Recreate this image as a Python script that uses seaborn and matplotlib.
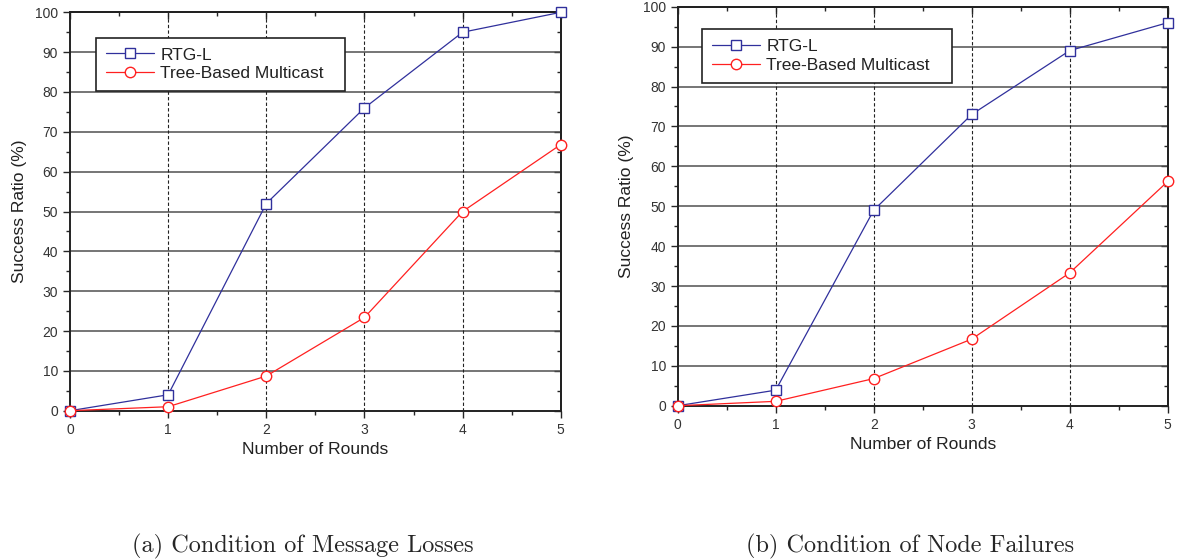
import matplotlib
matplotlib.use("Agg")
import matplotlib.pyplot as plt
import matplotlib.ticker as mtick
import seaborn as sns

# Dados
rodadas = [0, 1, 2, 3, 4, 5]
rtg_perdas = [0, 4, 52, 76, 95, 100]
arvore_perdas = [0, 1, 8.7, 23.4, 50, 66.8]
rtg_falhas = [0, 3.9, 49, 73, 89, 96]
arvore_falhas = [0, 1.1, 6.8, 16.7, 33.3, 56.2]
legendas = ["RTG-L", "Tree-Based Multicast"]
legendas_sub = ["(a) Condition of Message Losses", "(b) Condition of Node Failures"]

azul = "#30309c"
vermelho = "#ff2020"

sns.set_style("ticks")
plt.rcParams["font.family"] = ["Liberation Sans", "DejaVu Sans"]


def plot_painel(ax, serie_rtg, serie_arvore, caixa_legenda):
    sns.lineplot(x=rodadas, y=serie_rtg, ax=ax, color=azul, marker="s",
                 markersize=7, markerfacecolor="white", markeredgecolor=azul,
                 markeredgewidth=1.0, linewidth=0.9, clip_on=False, zorder=4,
                 label=legendas[0], legend=False)
    sns.lineplot(x=rodadas, y=serie_arvore, ax=ax, color=vermelho, marker="o",
                 markersize=7.5, markerfacecolor="white", markeredgecolor=vermelho,
                 markeredgewidth=1.0, linewidth=0.9, clip_on=False, zorder=4,
                 label=legendas[1], legend=False)

    ax.set_xlim(0, 5)
    ax.set_ylim(0, 100)
    ax.set_xticks(rodadas)
    ax.set_yticks(range(0, 101, 10))
    ax.xaxis.set_minor_locator(mtick.MultipleLocator(0.5))
    ax.yaxis.set_minor_locator(mtick.MultipleLocator(5))

    # grade: horizontal contínua, vertical tracejada
    for v in range(10, 100, 10):
        ax.axhline(v, color="#505050", linewidth=1.1, zorder=1)
    for r in rodadas[1:-1]:
        ax.axvline(r, color="#222222", linewidth=0.8, linestyle=(0, (3, 2)), zorder=1)

    ax.tick_params(which="major", direction="out", length=5, width=1.0,
                   labelsize=10, labelcolor="#333333", pad=3.5)
    ax.tick_params(which="minor", direction="out", length=3, width=1.0)

    # ticks espelhados para dentro no topo e à direita
    topo = ax.secondary_xaxis("top")
    topo.set_xticks(rodadas)
    topo.xaxis.set_minor_locator(mtick.MultipleLocator(0.5))
    topo.tick_params(which="major", direction="in", length=5, width=1.0, labeltop=False)
    topo.tick_params(which="minor", direction="in", length=3, width=1.0)
    direita = ax.secondary_yaxis("right")
    direita.set_yticks(range(0, 101, 10))
    direita.yaxis.set_minor_locator(mtick.MultipleLocator(5))
    direita.tick_params(which="major", direction="in", length=5, width=1.0, labelright=False)
    direita.tick_params(which="minor", direction="in", length=3, width=1.0)
    for s in [topo.spines["top"], direita.spines["right"]]:
        s.set_linewidth(1.4)
        s.set_color("#222222")

    for spine in ax.spines.values():
        spine.set_linewidth(1.4)
        spine.set_color("#222222")

    ax.set_xlabel("Number of Rounds", fontsize=12.5, color="#222222", labelpad=4)
    ax.set_ylabel("Success Ratio (%)", fontsize=12.5, color="#222222", labelpad=6)

    leg = ax.legend(loc="upper left", bbox_to_anchor=caixa_legenda, mode="expand",
                    borderaxespad=0, fontsize=12.5, frameon=True, fancybox=False,
                    framealpha=1, edgecolor="#222222", handlelength=2.8,
                    handletextpad=0.35, borderpad=0.55, labelspacing=0.22)
    leg.get_frame().set_linewidth(1.2)
    for t in leg.get_texts():
        t.set_color("#222222")
    leg.set_zorder(5)


fig = plt.figure(figsize=(11.77, 5.6), dpi=100)
ax1 = fig.add_axes([0.0595, 0.2666, 0.4169, 0.7114])
ax2 = fig.add_axes([0.5758, 0.2755, 0.4163, 0.7125])

plot_painel(ax1, rtg_perdas, arvore_perdas, (0.053, 0.8075, 0.508, 0.1285))
plot_painel(ax2, rtg_falhas, arvore_falhas, (0.050, 0.813, 0.509, 0.130))

fig.text(0.257, 0.0143, legendas_sub[0], family="cmr10", fontsize=17.5,
         ha="center", va="baseline")
fig.text(0.773, 0.0143, legendas_sub[1], family="cmr10", fontsize=17.5,
         ha="center", va="baseline")

fig.savefig("out.png", dpi=100)
